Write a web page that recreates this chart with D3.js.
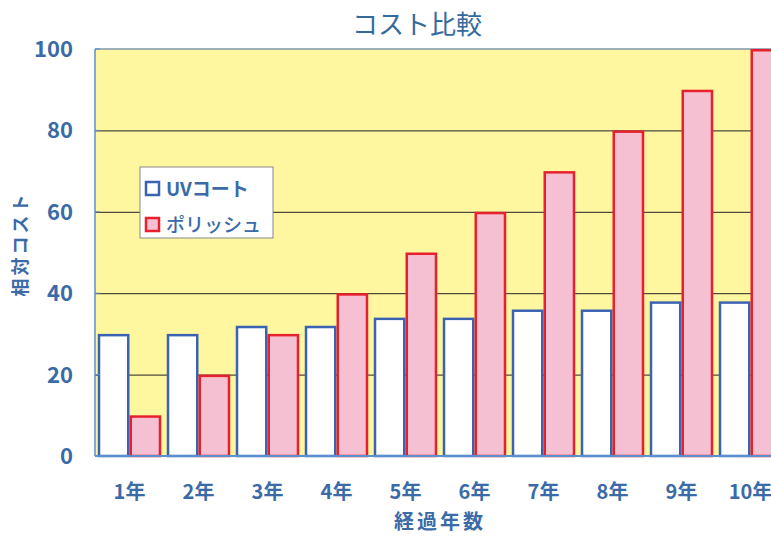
<!DOCTYPE html>
<html><head><meta charset="utf-8">
<script src="https://cdn.jsdelivr.net/npm/d3@7"></script>
<style>
html,body{margin:0;padding:0;background:#fff;overflow:hidden}
text{font-family:"Noto Sans CJK JP","Noto Sans",sans-serif}
</style></head>
<body><svg id="c" width="771" height="536"></svg>
<script>
const categories = ["1年","2年","3年","4年","5年","6年","7年","8年","9年","10年"];
const seriesNames = ["UVコート","ポリッシュ"];
const uvCoat = [30,30,32,32,34,34,36,36,38,38];
const polish = [10,20,30,40,50,60,70,80,90,100];
const yTicks = [0,20,40,60,80,100];

const svg = d3.select("#c");
const L = 95, T = 49, B = 456, R = 785;
const textColor = "#3a6aa8";

const x = d3.scaleBand().domain(categories).range([L, R]).paddingInner(0.08).paddingOuter(0.04);
const xs = d3.scaleBand().domain(seriesNames).range([0, x.bandwidth()]).padding(0);
const y = d3.scaleLinear().domain([0, 100]).range([B, T]);

// plot background
svg.append("rect").attr("x", L).attr("y", T).attr("width", R - L).attr("height", B - T).attr("fill", "#fff6a0");
// top border
svg.append("line").attr("x1", L).attr("x2", R).attr("y1", T).attr("y2", T).attr("stroke", "#7f96a8").attr("stroke-width", 1.5);

// gridlines
svg.append("g").selectAll("line").data(yTicks.filter(d => d > 0 && d < 100)).join("line")
  .attr("x1", L).attr("x2", R).attr("y1", d => y(d) + 0.5).attr("y2", d => y(d) + 0.5)
  .attr("stroke", "#222").attr("stroke-width", 1);

const rows = categories.map((c, i) => ({c, vals: [uvCoat[i], polish[i]]}));
const fills = ["#ffffff", "#f5c0d2"];
const strokes = ["#3b63b3", "#e8202e"];

svg.append("g").selectAll("g").data(rows).join("g")
  .attr("transform", d => `translate(${x(d.c)},0)`)
  .selectAll("rect").data(d => d.vals.map((v, j) => ({v, s: seriesNames[j], j}))).join("rect")
  .attr("x", d => xs(d.s) + 1.25)
  .attr("width", xs.bandwidth() - 2.5)
  .attr("y", d => y(d.v) + 1.25)
  .attr("height", d => B - y(d.v) - 1.25)
  .attr("fill", d => fills[d.j]).attr("stroke", d => strokes[d.j]).attr("stroke-width", 2.5);

// axes lines
svg.append("line").attr("x1", L).attr("x2", L).attr("y1", T).attr("y2", B).attr("stroke", "#5b8fd0").attr("stroke-width", 1.5);
svg.append("line").attr("x1", L).attr("x2", R).attr("y1", B).attr("y2", B).attr("stroke", "#5b8fd0").attr("stroke-width", 2);
svg.append("g").selectAll("line").data(yTicks).join("line")
  .attr("x1", L).attr("x2", L + 5).attr("y1", d => y(d)).attr("y2", d => y(d)).attr("stroke", "#5b8fd0");

// y tick labels
svg.append("g").selectAll("text").data(yTicks).join("text")
  .attr("x", 73).attr("y", d => y(d)).attr("dy", "0.36em").attr("text-anchor", "end")
  .attr("font-size", 22).attr("font-weight", "bold").attr("fill", textColor).text(d => d);

// x tick labels
svg.append("g").selectAll("text").data(categories).join("text")
  .attr("x", d => x(d) + x.bandwidth() / 2).attr("y", 492).attr("dy", "0.35em").attr("text-anchor", "middle")
  .attr("font-size", 20).attr("font-weight", "bold").attr("fill", textColor).text(d => d);

// title
svg.append("text").attr("x", 417).attr("y", 25).attr("dy", "0.35em").attr("text-anchor", "middle")
  .attr("font-size", 26).attr("fill", "#356a9e").text("コスト比較");

// axis titles
svg.append("text").attr("x", 440).attr("y", 522).attr("dy", "0.35em").attr("text-anchor", "middle")
  .attr("font-size", 20).attr("font-weight", "bold").attr("letter-spacing", 3).attr("fill", textColor).text("経過年数");
svg.append("text").attr("transform", "translate(21,244) rotate(-90)").attr("dy", "0.35em").attr("text-anchor", "middle")
  .attr("font-size", 18).attr("font-weight", "bold").attr("letter-spacing", 3).attr("fill", textColor).text("相対コスト");

// legend
const lg = svg.append("g");
lg.append("rect").attr("x", 140).attr("y", 167).attr("width", 133).attr("height", 71)
  .attr("fill", "#fff").attr("stroke", "#888").attr("stroke-width", 1);
const items = lg.selectAll("g").data(seriesNames).join("g")
  .attr("transform", (d, i) => `translate(146,${182 + i * 36})`);
items.append("rect").attr("width", 13).attr("height", 13)
  .attr("fill", (d, i) => fills[i]).attr("stroke", (d, i) => strokes[i]).attr("stroke-width", 2.5);
items.append("text").attr("x", 20).attr("y", 7).attr("dy", "0.36em")
  .attr("font-size", 19).attr("font-weight", (d, i) => i === 0 ? "bold" : 500).attr("fill", textColor).text(d => d);
</script></body></html>
